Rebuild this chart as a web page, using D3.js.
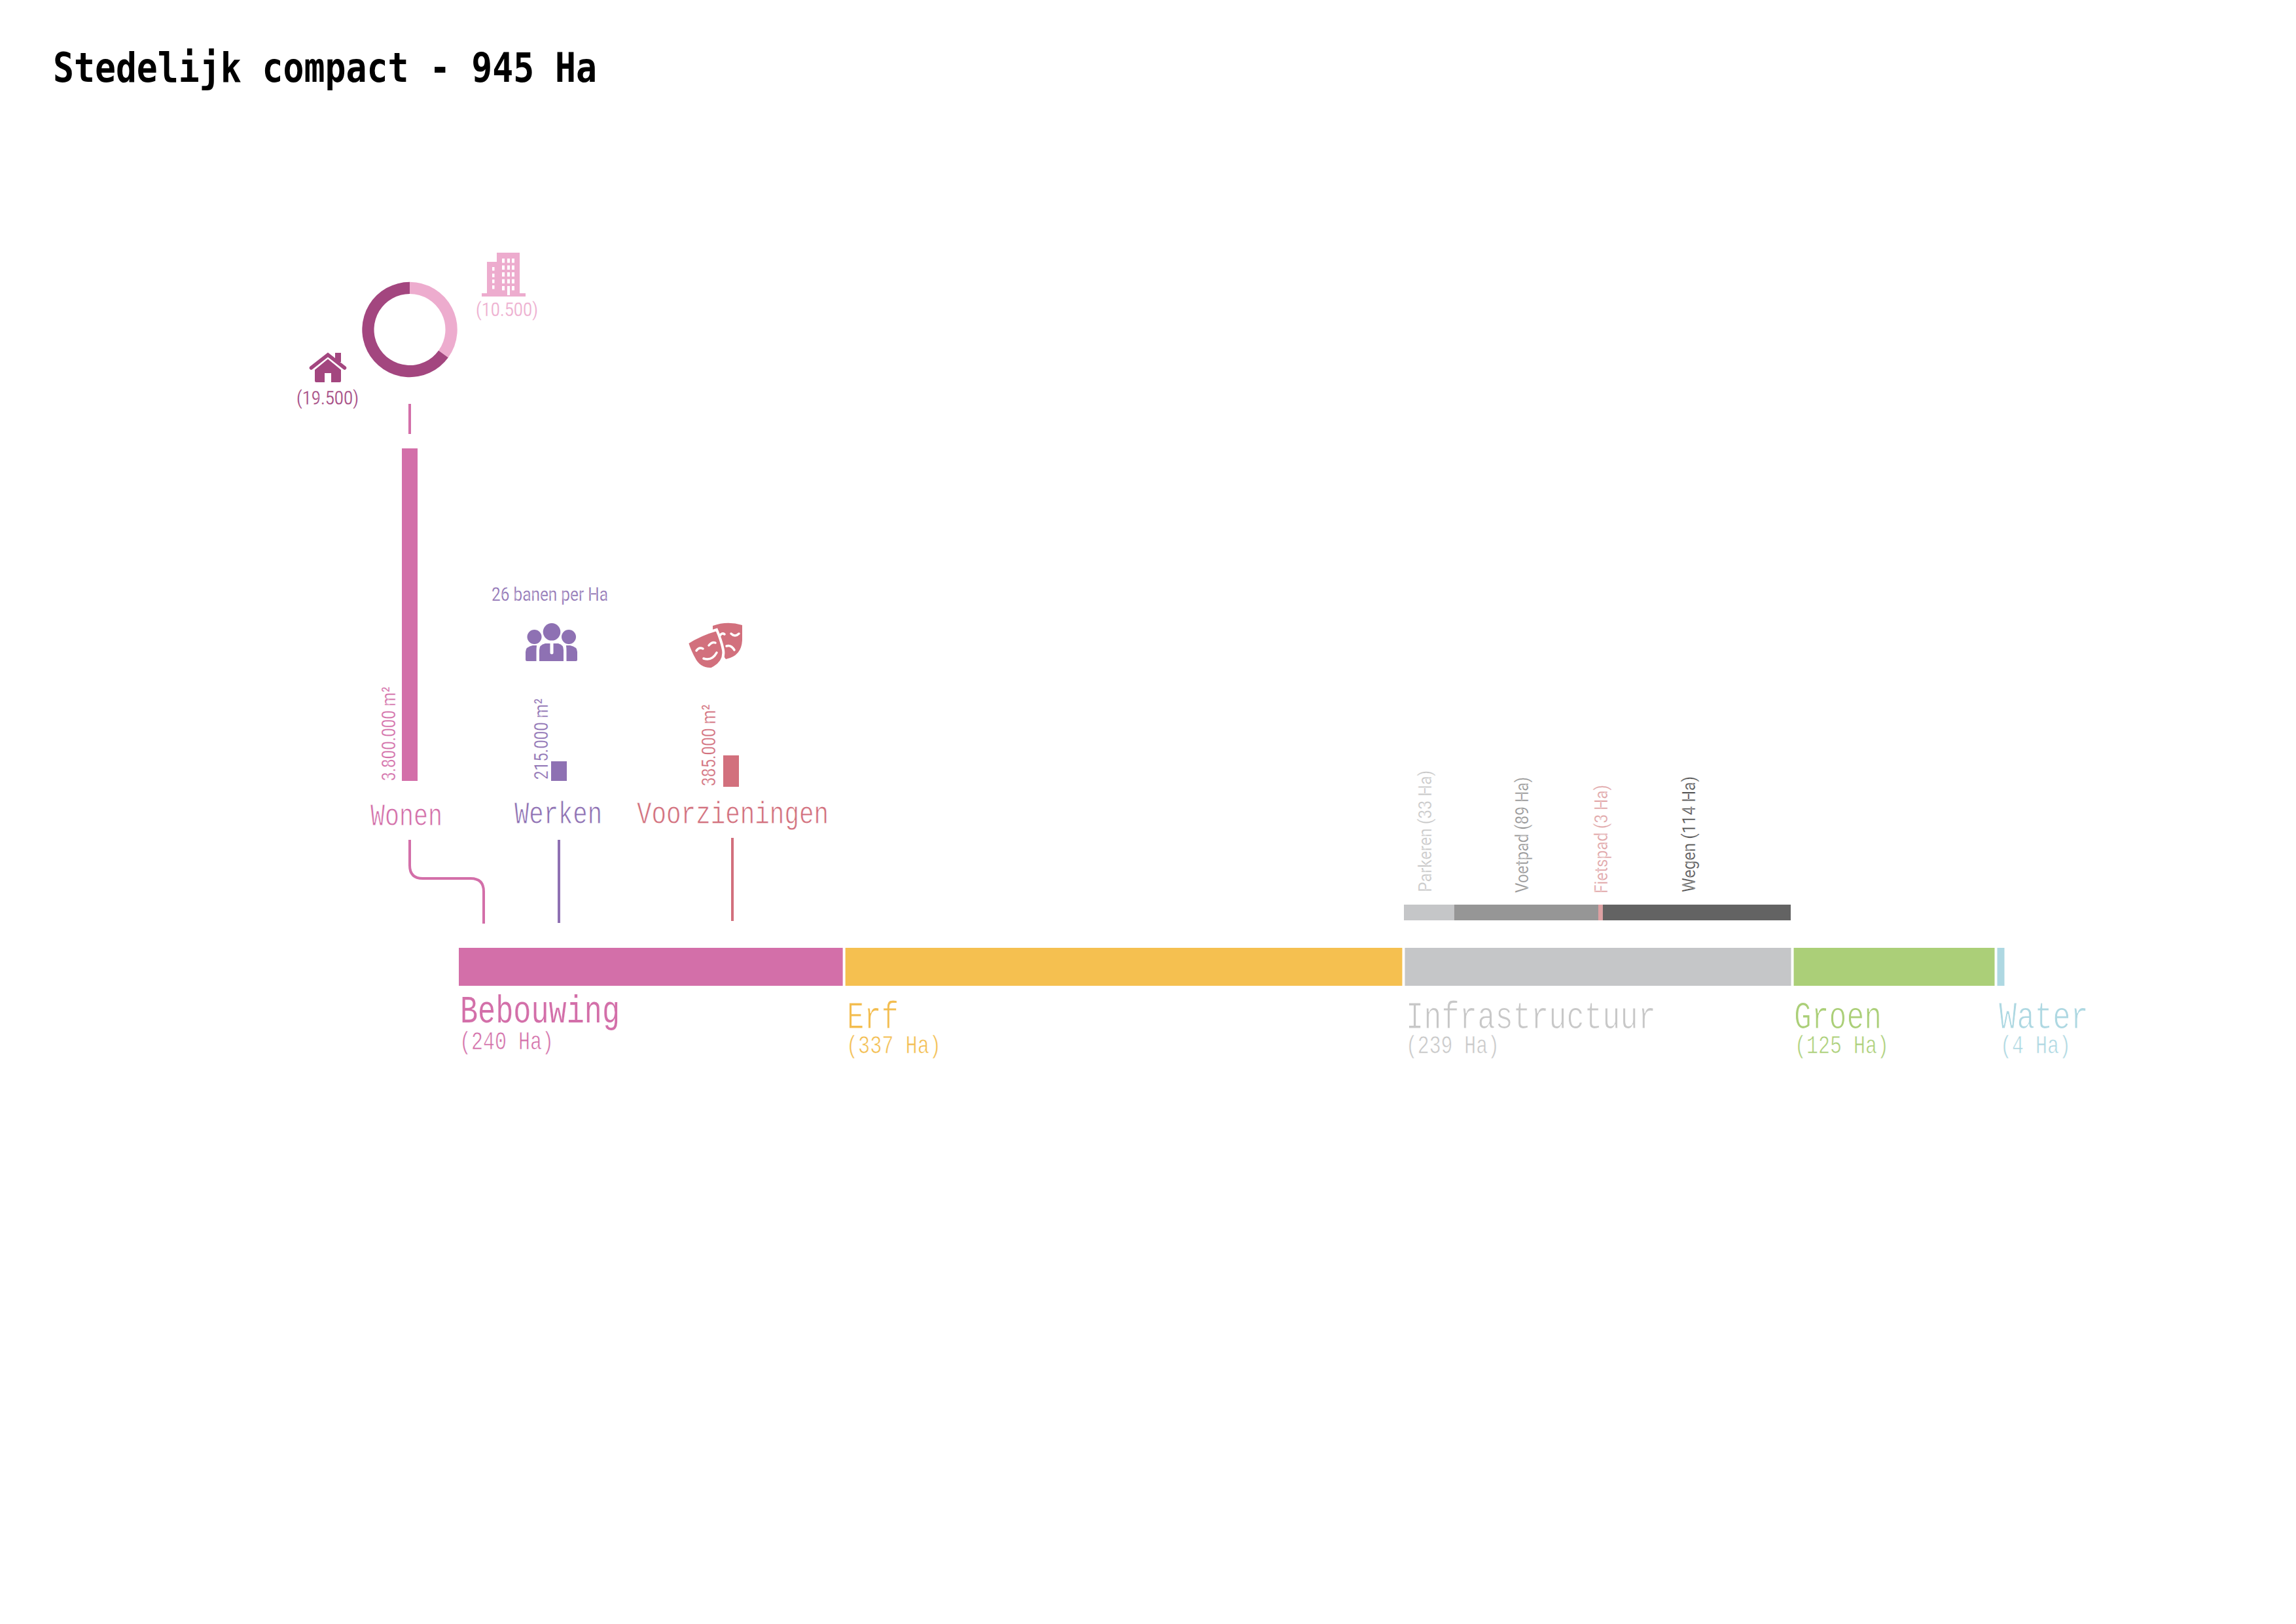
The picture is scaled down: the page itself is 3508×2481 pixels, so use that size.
<!DOCTYPE html>
<html>
<head>
<meta charset="utf-8">
<script src="https://cdn.jsdelivr.net/npm/d3@7"></script>
<style>
  html, body { margin: 0; padding: 0; background: #fff; }
  svg { display: block; }
</style>
</head>
<body>
<div id="chart"></div>
<script>
// land use, hectares as labelled
const landNames = ['Bebouwing', 'Erf', 'Infrastructuur', 'Groen', 'Water'];
const landHa = [240, 337, 239, 125, 4];
// the drawn segments are not quite proportional to their labels, these are read off the bar lengths
const landBarHa = [235.5, 342, 237.7, 124.4, 6];

const infraNames = ['Parkeren', 'Voetpad', 'Fietspad', 'Wegen'];
const infraHa = [33, 89, 3, 114];
const infraBarHa = [31, 89, 2.8, 116];

const buildNames = ['Wonen', 'Werken', 'Voorzieningen'];
const buildM2 = [3800000, 215000, 385000];
const buildBarM2 = [3800000, 224000, 359000];

const homeCounts = [10500, 19500];
const jobsPerHa = 26;

const totalHa = 945;
const titleName = 'Stedelijk compact';

// styling and placement, kept apart from the values
const landColors = ['#d36fa9', '#f5c050', '#c5c6c8', '#abcf78', '#aed8e2'];
const landTextColors = ['#d36fa9', '#f3bd4f', '#c8c8c8', '#abcf78', '#aed8e2'];
const infraColors = ['#c5c6c8', '#969696', '#dda0a2', '#636363'];
const infraTextColors = ['#c8c8c8', '#969696', '#e0a4a6', '#555555'];
const buildColors = ['#d36fa9', '#8e71b3', '#d2707d'];
const dark = '#a3467f', light = '#edacce';

const mono = '"Liberation Mono", monospace';
const din = 'Roboto, sans-serif';

const width = 3508, height = 2481;

const svg = d3.select('#chart').append('svg')
    .attr('width', width)
    .attr('height', height)
    .attr('viewBox', `0 0 ${width} ${height}`);

const nl = d3.formatLocale({ decimal: ',', thousands: '.', grouping: [3], currency: ['', ''] });
const fmt = nl.format(',d');

// text helper, squeezes the installed fonts to the measured width
function label(x, y, text, o) {
    const t = svg.append('text')
        .attr('x', x)
        .attr('y', y)
        .attr('font-family', o.font || din)
        .attr('font-size', o.size)
        .attr('font-weight', o.weight || 400)
        .attr('fill', o.color)
        .attr('textLength', o.len)
        .attr('lengthAdjust', 'spacingAndGlyphs')
        .text(text);
    if (o.thin) t.attr('stroke', '#fff').attr('stroke-width', o.thin);
    if (o.rotate) t.attr('transform', `rotate(-90 ${x} ${y})`);
    return t;
}

label(81, 125, `${titleName} - ${totalHa} Ha`, {
    font: '"DejaVu Sans Mono", monospace', size: 62, weight: 700, color: '#000', len: 831,
});

// main stacked bar
const landEnds = d3.cumsum(landBarHa);
const landX = d3.scaleLinear().domain([0, d3.sum(landBarHa)]).range([701, 3064.5]);
const landTop = 1448, landBottom = 1506;
svg.selectAll('.land').data(landBarHa).enter().append('rect')
    .attr('class', 'land')
    .attr('x', (d, i) => landX(landEnds[i] - d) + (i ? 2 : 0))
    .attr('y', landTop)
    .attr('width', (d, i) => landX(landEnds[i]) - landX(landEnds[i] - d) - (i ? 4 : 2))
    .attr('height', landBottom - landTop)
    .attr('fill', (d, i) => landColors[i]);

const landLabelX = [703, 1294, 2148, 2741, 3054];
const landLabelLen = [244, 79, 382, 134, 137];
const landSubX = [702, 1293, 2148, 2742, 3056];
const landSubLen = [144, 145, 143, 144, 108];
landNames.forEach((name, i) => {
    label(landLabelX[i], i ? 1570.5 : 1562, name, {
        font: mono, size: 60, color: landTextColors[i], len: landLabelLen[i], thin: i ? 1.2 : 0.2,
    });
    label(landSubX[i], i ? 1609 : 1602.5, `(${landHa[i]} Ha)`, {
        font: mono, size: 38, color: landTextColors[i], len: landSubLen[i], thin: 0.7,
    });
});

// infrastructure split above the grey segment
const infraEnds = d3.cumsum(infraBarHa);
const infraX = d3.scaleLinear().domain([0, d3.sum(infraBarHa)]).range([2145, 2736]);
svg.selectAll('.infra').data(infraBarHa).enter().append('rect')
    .attr('class', 'infra')
    .attr('x', (d, i) => infraX(infraEnds[i] - d))
    .attr('y', 1382)
    .attr('width', (d, i) => infraX(infraEnds[i]) - infraX(infraEnds[i] - d))
    .attr('height', 24)
    .attr('fill', (d, i) => infraColors[i]);

const infraLabelX = [2187, 2335, 2456, 2590];
const infraLabelY = [1363, 1364, 1365, 1363];
const infraLabelLen = [186, 177, 166, 177];
infraNames.forEach((name, i) => {
    label(infraLabelX[i], infraLabelY[i], `${name} (${infraHa[i]} Ha)`, {
        size: 28, color: infraTextColors[i], len: infraLabelLen[i], rotate: true, thin: 0.3,
    });
});

// building programme bars
const areaH = d3.scaleLinear().domain([0, d3.max(buildBarM2)]).range([0, 508]);
const buildBarX = [614, 842, 1105];
const buildBase = [1193, 1193, 1202];
svg.selectAll('.build').data(buildBarM2).enter().append('rect')
    .attr('class', 'build')
    .attr('x', (d, i) => buildBarX[i])
    .attr('y', (d, i) => buildBase[i] - areaH(d))
    .attr('width', 24)
    .attr('height', d => areaH(d))
    .attr('fill', (d, i) => buildColors[i]);

const areaLabelX = [604, 837, 1093];
const areaLabelY = [1193, 1191, 1201];
const areaLabelLen = [144, 124, 125];
const nameX = [566, 786, 973];
const nameY = [1261, 1258, 1258];
const nameLen = [110, 134, 293];
buildNames.forEach((name, i) => {
    label(areaLabelX[i], areaLabelY[i], `${fmt(buildM2[i])} m²`, {
        size: 29, color: buildColors[i], len: areaLabelLen[i], rotate: true, thin: 0.3,
    });
    label(nameX[i], nameY[i], name, { font: mono, size: 48, color: buildColors[i], len: nameLen[i], thin: 0.8 });
});

// connectors from the names down to the bebouwing segment
const connector = d3.path();
connector.moveTo(626, 1283);
connector.lineTo(626, 1322);
connector.quadraticCurveTo(626, 1342, 646, 1342);
connector.lineTo(719, 1342);
connector.quadraticCurveTo(739, 1342, 739, 1362);
connector.lineTo(739, 1411);
const lines = svg.append('g').attr('fill', 'none').attr('stroke-width', 4);
lines.append('path').attr('d', connector.toString()).attr('stroke', buildColors[0]);
lines.append('line').attr('x1', 854).attr('x2', 854).attr('y1', 1283).attr('y2', 1410).attr('stroke', buildColors[1]);
lines.append('line').attr('x1', 1119).attr('x2', 1119).attr('y1', 1280).attr('y2', 1407).attr('stroke', buildColors[2]);
lines.append('line').attr('x1', 626).attr('x2', 626).attr('y1', 617).attr('y2', 663).attr('stroke', buildColors[0]);

// donut, woningen split
const pie = d3.pie().sort(null);
const arc = d3.arc().innerRadius(54.5).outerRadius(72.7);
svg.append('g').attr('transform', 'translate(626,503.5)')
    .selectAll('path').data(pie(homeCounts)).enter().append('path')
    .attr('d', arc)
    .attr('fill', (d, i) => i ? dark : light);

label(500 - 47, 618, `(${fmt(homeCounts[1])})`, { size: 29, color: dark, len: 95, thin: 0.3 });
label(774 - 47, 483, `(${fmt(homeCounts[0])})`, { size: 29, color: light, len: 95, thin: 0.3 });
label(751, 918, `${jobsPerHa} banen per Ha`, { size: 29, color: buildColors[1], len: 178, thin: 0.3 });

// icons
const house = svg.append('g').attr('transform', 'translate(473,539)').attr('fill', dark);
house.append('path').attr('d', 'M2.5,23 L28,3 L53.5,23').attr('fill', 'none').attr('stroke', dark)
    .attr('stroke-width', 5.5).attr('stroke-linecap', 'round');
house.append('rect').attr('x', 39).attr('y', 0).attr('width', 9).attr('height', 14);
house.append('path').attr('d', 'M28,9.5 L48,26 L48,43 Q48,45 46,45 L33,45 L33,31 L23,31 L23,45 L10,45 Q8,45 8,43 L8,26 Z');

const building = svg.append('g').attr('transform', 'translate(736,386)').attr('fill', light);
building.append('rect').attr('x', 0).attr('y', 62).attr('width', 67).attr('height', 5);
building.append('rect').attr('x', 8).attr('y', 14).attr('width', 15).attr('height', 49);
building.append('rect').attr('x', 23).attr('y', 0).attr('width', 35).attr('height', 63);
[31, 39, 46].forEach(wx => [9, 19.5, 30, 40.5, 51].forEach(wy => {
    building.append('rect').attr('x', wx).attr('y', wy).attr('width', 4).attr('height', wx === 39 && wy === 51 ? 14 : 6.5).attr('fill', '#fff');
}));
[22, 32, 41, 50].forEach(wy => {
    building.append('rect').attr('x', 16).attr('y', wy).attr('width', 3.5).attr('height', 5.5).attr('fill', '#fff');
});

const people = svg.append('g').attr('transform', 'translate(803,952)').attr('fill', buildColors[1]);
people.append('circle').attr('cx', 40).attr('cy', 13.3).attr('r', 13.3);
people.append('circle').attr('cx', 13.5).attr('cy', 21).attr('r', 11);
people.append('circle').attr('cx', 66).attr('cy', 21).attr('r', 11);
people.append('path').attr('d', 'M21,58 L21,41 Q21,33 30,31 L50,31 Q58,33 58,41 L58,58 Z');
people.append('path').attr('d', 'M0,56 L0,44 Q0,36 11,34 L17,34 Q16.5,38 16.5,44 L16.5,58 L2,58 Q0,58 0,56 Z');
people.append('path').attr('d', 'M79,56 L79,44 Q79,36 68,34 L62,34 Q62.5,38 62.5,44 L62.5,58 L77,58 Q79,58 79,56 Z');
people.append('line').attr('x1', 40).attr('x2', 40).attr('y1', 30).attr('y2', 45).attr('stroke', '#fff')
    .attr('stroke-width', 5).attr('stroke-linecap', 'round');

const masks = svg.append('g').attr('transform', 'translate(1049,950)');
masks.append('path').attr('fill', buildColors[2])
    .attr('d', 'M40,6 Q62,-2 85,5 L85,28 Q84,52 60,57 L40,30 Z');
masks.append('path').attr('fill', buildColors[2]).attr('stroke', '#fff').attr('stroke-width', 4)
    .attr('d', 'M1,32 Q21,19 46,12 Q53,28 56,43 Q59,62 38,72 Q22,73 13,59 Q5,45 1,32 Z');
const faceLines = [
    'M15,44 Q19,38 25,41',
    'M34,36 Q39,30 44,32',
    'M26,56 Q39,60 46,47',
    'M51,21 Q54,16 58,19',
    'M68,18 Q74,24 80,18',
    'M61,37 Q68,35 73,43',
];
masks.selectAll('.face').data(faceLines).enter().append('path')
    .attr('class', 'face')
    .attr('d', d => d)
    .attr('fill', 'none')
    .attr('stroke', '#fff')
    .attr('stroke-width', 3.5)
    .attr('stroke-linecap', 'round');
</script>
</body>
</html>
